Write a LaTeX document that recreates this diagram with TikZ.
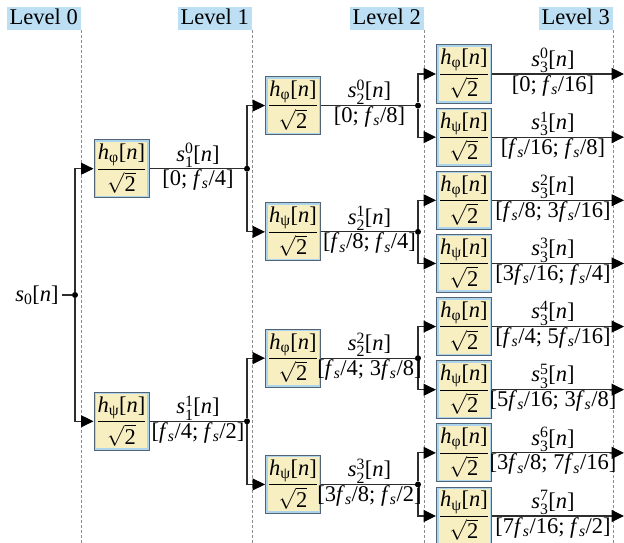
\documentclass[tikz,border=0pt]{standalone}
\usepackage{amsmath}
\usepackage{fontspec}
\setmainfont{Liberation Serif}
\usetikzlibrary{arrows.meta}

\definecolor{lvlfill}{RGB}{189,223,244}
\definecolor{boxfill}{RGB}{247,239,194}
\definecolor{boxedge}{RGB}{82,100,118}
\definecolor{boxinner}{RGB}{172,212,236}
\definecolor{wirec}{RGB}{45,45,45}
\definecolor{guidec}{RGB}{140,140,140}

% signal name, frequency symbol and filter fraction
\newcommand{\sigl}[2]{$\textit{s}^{\text{#1}}_{\text{#2}}$[\textit{n}]}
\newcommand{\fsv}{\textit{f}$_{\textit{s}}$}
\newcommand{\filtfrac}[1]{$\dfrac{\textit{h}_{\text{#1}}\text{[}\textit{n}\text{]}}{\sqrt{\text{2}}}$}

\begin{document}
\begin{tikzpicture}[x=1pt,y=-1pt,
  font=\fontsize{22.5pt}{26pt}\selectfont,
  lvl/.style={fill=lvlfill, anchor=north east, inner xsep=3pt, inner ysep=2pt,
    text height=15pt, text depth=4pt},
  guide/.style={draw=guidec, line width=0.8pt, dash pattern=on 3pt off 2pt},
  wire/.style={draw=wirec, line width=1.1pt},
  arr/.style={wire, -{Triangle[length=12.5pt,width=12pt,color=black]}},
  dot/.style={circle, fill=black, inner sep=0pt, minimum size=6pt},
  filt/.style={minimum width=55pt, minimum height=58pt, inner sep=0pt,
    draw=boxedge, line width=1pt, fill=boxinner,
    path picture={\fill[boxfill]
      ([shift={(2pt,-2pt)}]path picture bounding box.north west) rectangle
      ([shift={(-2pt,2pt)}]path picture bounding box.south east);}},
  up/.style={anchor=south, inner sep=1pt},
  dn/.style={anchor=north, inner sep=1pt}]
\useasboundingbox (0,0) rectangle (624,543);

% level headers and their dashed guide lines
\foreach \i/\x in {0/81,1/252,2/424,3/613}{
  \node[lvl] (lvl\i) at (\x,7) {Level \i};
  \coordinate (g\i) at (\x,543);
  \draw[guide] (lvl\i.south east) -- (g\i);
}

% level 0
\node (s0) at (37,295) {$\textit{s}_{\text{0}}$[\textit{n}]};
\node[dot] (j0) at (75,295) {};

% level 1
\node[filt] (b1a) at (121.5,168.71) {\filtfrac{φ}};
\node[filt] (b1b) at (121.5,421.29) {\filtfrac{ψ}};
\node[dot] (j1a) at (247,168.71) {};
\node[dot] (j1b) at (247,421.29) {};

% level 2
\node[filt] (b2a) at (293,105.57) {\filtfrac{φ}};
\node[filt] (b2b) at (293,231.86) {\filtfrac{ψ}};
\node[filt] (b2c) at (293,358.14) {\filtfrac{φ}};
\node[filt] (b2d) at (293,484.43) {\filtfrac{ψ}};
\node[dot] (j2a) at (418,105.57) {};
\node[dot] (j2b) at (418,231.86) {};
\node[dot] (j2c) at (418,358.14) {};
\node[dot] (j2d) at (418,484.43) {};

% level 3
\node[filt] (b3a) at (464,74) {\filtfrac{φ}};
\node[filt] (b3b) at (464,137.14) {\filtfrac{ψ}};
\node[filt] (b3c) at (464,200.29) {\filtfrac{φ}};
\node[filt] (b3d) at (464,263.43) {\filtfrac{ψ}};
\node[filt] (b3e) at (464,326.57) {\filtfrac{φ}};
\node[filt] (b3f) at (464,389.71) {\filtfrac{ψ}};
\node[filt] (b3g) at (464,452.86) {\filtfrac{φ}};
\node[filt] (b3h) at (464,516) {\filtfrac{ψ}};
\foreach \n/\y in {a/74,b/137.14,c/200.29,d/263.43,e/326.57,f/389.71,g/452.86,h/516}
  \coordinate (o\n) at (624,\y);

% connectors
\draw[wire] (s0) -- (j0);
\draw[arr] (j0) |- (b1a);
\draw[arr] (j0) |- (b1b);

\draw[wire] (b1a) -- (j1a);
\draw[wire] (b1b) -- (j1b);
\draw[arr] (j1a) |- (b2a);
\draw[arr] (j1a) |- (b2b);
\draw[arr] (j1b) |- (b2c);
\draw[arr] (j1b) |- (b2d);

\draw[wire] (b2a) -- (j2a);
\draw[wire] (b2b) -- (j2b);
\draw[wire] (b2c) -- (j2c);
\draw[wire] (b2d) -- (j2d);
\draw[arr] (j2a) |- (b3a);
\draw[arr] (j2a) |- (b3b);
\draw[arr] (j2b) |- (b3c);
\draw[arr] (j2b) |- (b3d);
\draw[arr] (j2c) |- (b3e);
\draw[arr] (j2c) |- (b3f);
\draw[arr] (j2d) |- (b3g);
\draw[arr] (j2d) |- (b3h);

\foreach \n in {a,b,c,d,e,f,g,h}
  \draw[arr] (b3\n) -- (o\n);

% signal labels, level 1
\node[up] (t1a) at (198,168.71) {\sigl{0}{1}};
\node[dn] (r1a) at (198,168.71) {[0; \fsv/4]};
\node[up] (t1b) at (198,421.29) {\sigl{1}{1}};
\node[dn] (r1b) at (198,421.29) {[\fsv/4; \fsv/2]};

% signal labels, level 2
\node[up] (t2a) at (369.5,105.57) {\sigl{0}{2}};
\node[dn] (r2a) at (369.5,105.57) {[0; \fsv/8]};
\node[up] (t2b) at (369.5,231.86) {\sigl{1}{2}};
\node[dn] (r2b) at (369.5,231.86) {[\fsv/8; \fsv/4]};
\node[up] (t2c) at (369.5,358.14) {\sigl{2}{2}};
\node[dn] (r2c) at (369.5,358.14) {[\fsv/4; 3\fsv/8]};
\node[up] (t2d) at (369.5,484.43) {\sigl{3}{2}};
\node[dn] (r2d) at (369.5,484.43) {[3\fsv/8; \fsv/2]};

% signal labels, level 3
\node[up] (t3a) at (553,74) {\sigl{0}{3}};
\node[dn] (r3a) at (553,74) {[0; \fsv/16]};
\node[up] (t3b) at (553,137.14) {\sigl{1}{3}};
\node[dn] (r3b) at (553,137.14) {[\fsv/16; \fsv/8]};
\node[up] (t3c) at (553,200.29) {\sigl{2}{3}};
\node[dn] (r3c) at (553,200.29) {[\fsv/8; 3\fsv/16]};
\node[up] (t3d) at (553,263.43) {\sigl{3}{3}};
\node[dn] (r3d) at (553,263.43) {[3\fsv/16; \fsv/4]};
\node[up] (t3e) at (553,326.57) {\sigl{4}{3}};
\node[dn] (r3e) at (553,326.57) {[\fsv/4; 5\fsv/16]};
\node[up] (t3f) at (553,389.71) {\sigl{5}{3}};
\node[dn] (r3f) at (553,389.71) {[5\fsv/16; 3\fsv/8]};
\node[up] (t3g) at (553,452.86) {\sigl{6}{3}};
\node[dn] (r3g) at (553,452.86) {[3\fsv/8; 7\fsv/16]};
\node[up] (t3h) at (553,516) {\sigl{7}{3}};
\node[dn] (r3h) at (553,516) {[7\fsv/16; \fsv/2]};
\end{tikzpicture}
\end{document}
